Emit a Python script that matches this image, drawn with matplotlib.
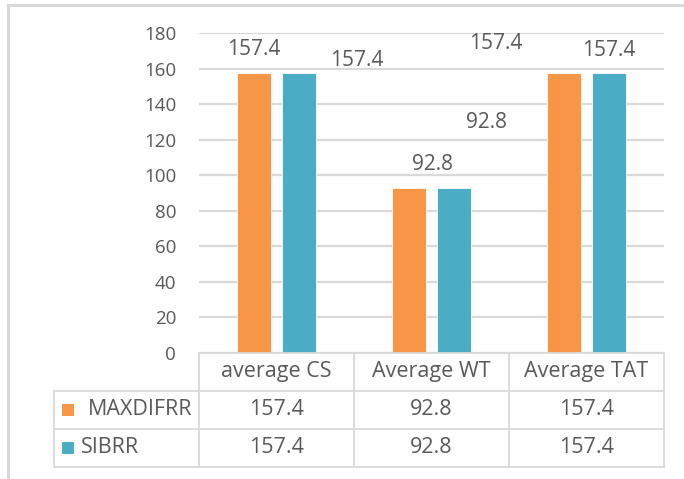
import matplotlib
matplotlib.use("Agg")
import matplotlib.pyplot as plt
from matplotlib.patches import Rectangle
from matplotlib.lines import Line2D

# Data
categories = ["average CS", "Average WT", "Average TAT"]
series_names = ["MAXDIFRR", "SIBRR"]
maxdifrr = [157.4, 92.8, 157.4]
sibrr = [157.4, 92.8, 157.4]
y_ticks = [0, 20, 40, 60, 80, 100, 120, 140, 160, 180]

colors = ["#F79646", "#4BACC6"]
text_color = "#595959"
grid_color = "#D9D9D9"
font = ["Open Sans", "DejaVu Sans"]

W, H = 684, 479
fig = plt.figure(figsize=(W / 100, H / 100), dpi=100)


def fx(x):
    return x / W


def fy(y):
    return 1 - y / H


# plot area in pixel coordinates
left, right, top, bottom = 199, 664, 33.3, 352.7
ax = fig.add_axes([fx(left), fy(bottom), fx(right - left), (bottom - top) / H])
ax.set_ylim(0, 180)
ax.set_xlim(-0.5, 2.5)

bar_w = 0.223
offsets = [-0.145, 0.145]
series = [maxdifrr, sibrr]
xs = list(range(len(categories)))
for vals, off, c in zip(series, offsets, colors):
    ax.bar([x + off for x in xs], vals, width=bar_w, color=c,
           edgecolor="white", linewidth=0.6, zorder=3)

# data labels (Excel-style placement, some drifted from their bars)
label_shift = {
    (0, 0): (0.0, 13.2), (1, 0): (0.37, 7.0),
    (0, 1): (0.15, 13.5), (1, 1): (0.21, 36.9),
    (0, 2): (-0.44, 16.7), (1, 2): (-0.003, 12.9),
}
for si, (vals, off) in enumerate(zip(series, offsets)):
    for ci, v in enumerate(vals):
        dx, dy = label_shift[(si, ci)]
        ax.text(ci + off + dx, v + dy, f"{v:g}", ha="center", va="center",
                fontsize=15, color=text_color, family=font)

ax.set_yticks(y_ticks)
ax.yaxis.grid(True, color=grid_color, linewidth=1.6, zorder=0)
ax.set_axisbelow(True)
ax.tick_params(axis="y", length=0, pad=16.5, labelsize=13.5, labelcolor=text_color)
for lab in ax.get_yticklabels():
    lab.set_family(font)
ax.set_xticks([])
for s in ax.spines.values():
    s.set_visible(False)

# data table below the plot
lc = grid_color
lw = 1.3
row_lines = [352.7, 390.7, 428.7, 466.7]
col_lines = [199, 354, 509, 664]
tbl_left = 54


def hline(y, x0, x1):
    fig.add_artist(Line2D([fx(x0), fx(x1)], [fy(y), fy(y)], color=lc, lw=lw))


def vline(x, y0, y1):
    fig.add_artist(Line2D([fx(x), fx(x)], [fy(y0), fy(y1)], color=lc, lw=lw))


hline(row_lines[0], col_lines[0], col_lines[-1])
for y in row_lines[1:]:
    hline(y, tbl_left, col_lines[-1])
for x in col_lines:
    vline(x, row_lines[0], row_lines[-1])
vline(tbl_left, row_lines[1], row_lines[-1])

col_centers = [(col_lines[i] + col_lines[i + 1]) / 2 for i in range(3)]
row_centers = [(row_lines[i] + row_lines[i + 1]) / 2 for i in range(3)]

tsize = 15.5
for cx, name in zip(col_centers, categories):
    fig.text(fx(cx), fy(row_centers[0]), name, ha="center", va="center",
             fontsize=tsize, color=text_color, family=font)

label_x = [88, 81]
for ri, (name, vals, c, lx) in enumerate(zip(series_names, series, colors, label_x)):
    cy = row_centers[ri + 1]
    fig.add_artist(Rectangle((fx(62), fy(cy + 6)), 12 / W, 12 / H,
                             facecolor=c, edgecolor="none"))
    fig.text(fx(lx), fy(cy), name, ha="left", va="center",
             fontsize=tsize, color=text_color, family=font)
    for cx, v in zip(col_centers, vals):
        fig.text(fx(cx), fy(cy), f"{v:g}", ha="center", va="center",
                 fontsize=tsize, color=text_color, family=font)

# chart area border
fig.add_artist(Rectangle((fx(8), fy(700)), 1000 / W, 695 / H, fill=False,
                         edgecolor="#D9D9D9", linewidth=2.2))

fig.savefig("out.png", dpi=100)
